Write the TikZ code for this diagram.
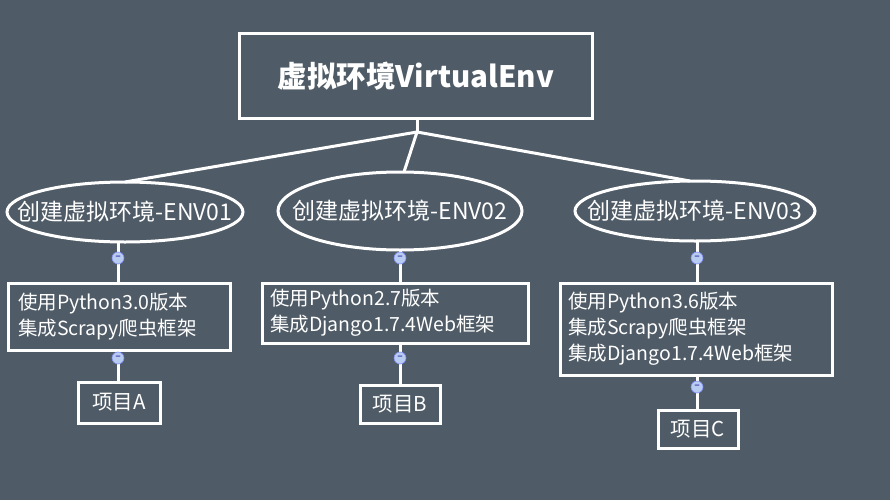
\documentclass[tikz,border=0pt]{standalone}
\usepackage{fontspec}
\setmainfont{Noto Sans CJK SC}
\definecolor{bg}{HTML}{4F5B66}
\definecolor{dot}{HTML}{B8CBF0}
\begin{document}
\begin{tikzpicture}[x=1pt,y=-1pt,
  bx/.style={draw=white,line width=3pt,text=white,font=\fontsize{19.5}{26}\selectfont,align=left,inner sep=0pt},
  el/.style={draw=white,line width=3pt},
  et/.style={text=white,font=\fontsize{23}{26}\selectfont},
  ln/.style={draw=white,line width=3pt},
  dt/.style={circle,fill=dot,draw=dot!70!blue,line width=0.6pt,minimum size=12pt,inner sep=0pt,font=\fontsize{10}{10}\selectfont\bfseries,text=blue!40!gray}]
\fill[bg] (0,0) rectangle (890,500);
\useasboundingbox (0,0) rectangle (890,500);
\node[draw=white,line width=3pt,text=white,font=\fontsize{29.5}{34}\selectfont\bfseries,minimum width=353pt,minimum height=84pt] (top) at (416,76) {虚拟环境VirtualEnv};
\coordinate (j) at (417,132);
\draw[ln] (top.south -| j) -- (j);
\draw[el] (125,212) ellipse (118 and 30);
\draw[el] (400,211) ellipse (122 and 39);
\draw[el] (695,211) ellipse (120 and 30);
\node[et] (e1) at (125,212) {创建虚拟环境-ENV01};
\node[et] (e2) at (400,211) {创建虚拟环境-ENV02};
\node[et] (e3) at (695,211) {创建虚拟环境-ENV03};
\coordinate (t1) at (125,182); \coordinate (t2) at (404,172); \coordinate (t3) at (690,181);
\draw[ln] (t1) -- (j); \draw[ln] (t2) -- (j); \draw[ln] (t3) -- (j);
% boxes
\node[bx,minimum width=222pt,minimum height=67pt,text width=202pt] (b1) at (119,316.5) {使用Python3.0版本\\集成Scrapy爬虫框架};
\node[bx,minimum width=266pt,minimum height=60pt,text width=250pt] (b2) at (395,313) {使用Python2.7版本\\集成Django1.7.4Web框架};
\node[bx,minimum width=272pt,minimum height=92pt,text width=256pt] (b3) at (696,329) {使用Python3.6版本\\集成Scrapy爬虫框架\\集成Django1.7.4Web框架};
\node[bx,font=\fontsize{20.5}{26}\selectfont,minimum width=82pt,minimum height=41pt,align=center] (p1) at (119,402.5) {项目A};
\node[bx,font=\fontsize{20.5}{26}\selectfont,minimum width=80pt,minimum height=38pt,align=center] (p2) at (400,404) {项目B};
\node[bx,font=\fontsize{20.5}{26}\selectfont,minimum width=80pt,minimum height=38pt,align=center] (p3) at (698,429) {项目C};
% connectors
\draw[ln] (118,242) -- (b1.north -| 118,0);
\draw[ln] (400,250) -- (b2.north -| 400,0);
\draw[ln] (697,241) -- (b3.north -| 697,0);
\draw[ln] (b1.south -| 118,0) -- (p1.north -| 118,0);
\draw[ln] (b2.south -| 400,0) -- (p2.north -| 400,0);
\draw[ln] (b3.south -| 697,0) -- (p3.north -| 697,0);
\foreach \n/\x/\y in {d1/118/258,d2/400/258,d3/697/258,d4/118/358,d5/400/358,d6/697/387}
  \node[dt] (\n) at (\x,\y) {--};
\end{tikzpicture}
\end{document}
